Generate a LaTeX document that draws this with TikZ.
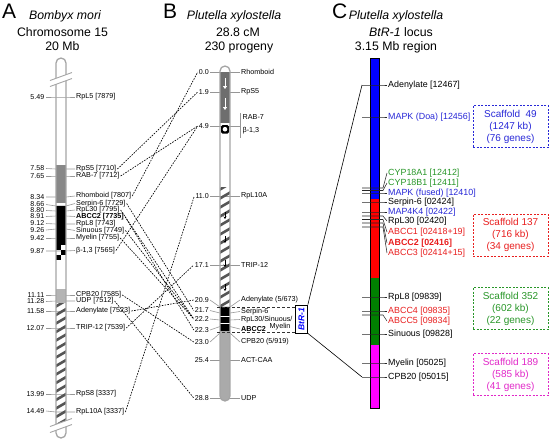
\documentclass[tikz,border=0pt]{standalone}
\usepackage{fontspec}
\setmainfont{Liberation Sans}
\usetikzlibrary{arrows.meta}
\definecolor{agray}{RGB}{136,136,136}
\definecolor{algray}{RGB}{180,180,180}
\definecolor{bdgray}{RGB}{110,110,110}
\definecolor{bgray}{RGB}{170,170,170}
\definecolor{hatchc}{RGB}{85,85,85}
\definecolor{outl}{RGB}{165,165,165}
\definecolor{tickc}{RGB}{150,150,150}
\definecolor{cblue}{RGB}{0,0,255}
\definecolor{cred}{RGB}{255,0,0}
\definecolor{cgreen}{RGB}{0,128,0}
\definecolor{cmag}{RGB}{255,0,255}
\definecolor{tblue}{RGB}{40,40,215}
\definecolor{tred}{RGB}{232,30,30}
\definecolor{tgreen}{RGB}{40,150,40}
\definecolor{tmag}{RGB}{225,40,200}
\begin{document}
\begin{tikzpicture}[x=1pt,y=-1pt,
  panel/.style={font=\fontsize{21}{24}\selectfont, anchor=base west, inner sep=0pt},
  ttl/.style={font=\fontsize{12.3}{14}\selectfont, anchor=base, inner sep=0pt},
  numA/.style={font=\fontsize{7.1}{8}\selectfont, anchor=east, inner sep=1.5pt},
  genA/.style={font=\fontsize{7.2}{8}\selectfont, anchor=west, inner sep=1pt},
  genC/.style={font=\fontsize{8.9}{10}\selectfont, anchor=west, inner sep=1pt},
  gtick/.style={draw=tickc, line width=0.6pt},
  ctick/.style={draw=black!85, line width=0.55pt},
  conn/.style={dash pattern=on 1.6pt off 1.2pt, line width=0.65pt},
  scaf/.style={dash pattern=on 2pt off 1.5pt, line width=0.8pt, align=center, font=\fontsize{10}{12}\selectfont, minimum width=75pt, minimum height=42pt, inner sep=0pt},
  outline/.style={draw=outl, line width=1.3pt, rounded corners=5pt},
  stripe/.style={draw=hatchc, line width=2.6pt},
]
\useasboundingbox (0,0) rectangle (550,440);

% ---------------- titles
\node[panel] (pA) at (2,18.3) {A};
\node[ttl] (tA1) at (65,19.5) {\itshape Bombyx mori};
\node[ttl] (tA2) at (62.5,36.5) {Chromosome 15};
\node[ttl] (tA3) at (62.5,50) {20 Mb};
\node[panel] (pB) at (163,18.3) {B};
\node[ttl] (tB1) at (234,19.5) {\itshape Plutella xylostella};
\node[ttl] (tB2) at (238,36.5) {28.8 cM};
\node[ttl] (tB3) at (239,50) {230 progeny};
\node[panel] (pC) at (332,18.3) {C};
\node[ttl] (tC1) at (396,19.5) {\itshape Plutella xylostella};
\node[ttl] (tC2) at (401,36.5) {{\itshape BtR-1} locus};
\node[ttl] (tC3) at (396,50) {3.15 Mb region};

% ---------------- A chromosome
\fill[white, rounded corners=5pt] (56,58) rectangle (66,438);
\foreach \nm/\ny/\yy/\ly/\num/\txt in {
  a549/97/97/97/5.49/{RpL5 [7879]},
  a758/168.5/169/169/7.58/{RpS5 [7710]},
  a765/176/176/176/7.65/{RAB-7 [7712]},
  a834/197/197/196/8.34/{Rhomboid [7807]},
  a866/204.5/206/203.5/8.66/{Serpin-6 [7729]},
  a880/210.5/211/210/8.80/{RpL30 [7795]},
  a891/216.5/216/216.5/8.91/{\textbf{ABCC2 [7735]}},
  a912/223.5/224/224/9.12/{RpL8 [7743]},
  a926/230/229/230.5/9.26/{Sinuous [7749]},
  a942/238/238/238/9.42/{Myelin [7755]},
  a987/251/251/250.5/9.87/{β-1,3 [7565]},
  a1111/295/295/295/11.11/{CPB20 [7585]},
  a1128/301.5/301/301/11.28/{UDP [7512]},
  a1158/311/311/311/11.58/{Adenylate [7523]},
  a1207/328/328/328/12.07/{TRIP-12 [7539]},
  a1399/394/394/394/13.99/{RpS8 [3337]},
  a1449/411/412/412/14.49/{RpL10A [3337]}}{
  \node[numA] (n\nm) at (46,\ny) {\num};
  \node[genA] (g\nm) at (75,\ly) {\txt};
  \draw[gtick] (n\nm.east) -- (56,\yy) -- (66,\yy) -- (g\nm.west);
}
\begin{scope}
  \clip[rounded corners=5pt] (56,58) rectangle (66,438);
  \fill[agray] (56,165) rectangle (66,203);
  \fill[black] (56,206) rectangle (66,245);
  \fill[black] (56,245) rectangle (61,250);
  \fill[black] (61,250) rectangle (66,255);
  \fill[black] (56,255) rectangle (61,260);
  \fill[algray] (56,289) rectangle (66,303);
  \begin{scope}
    \clip (56,303) rectangle (66,426);
    \foreach \k in {0,...,14} \draw[stripe] (55,307+\k*8.5) -- (67,300+\k*8.5);
  \end{scope}
\end{scope}
\draw[outline] (56,58) rectangle (66,438);
\fill[white] (50,80.5) -- (72,72.5) -- (72,78.5) -- (50,86.5) -- cycle;
\draw[outl, line width=0.9pt] (50,80.5) -- (72,72.5) (50,86.5) -- (72,78.5);
\fill[white] (50,426.5) -- (72,418.5) -- (72,424.5) -- (50,432.5) -- cycle;
\draw[outl, line width=0.9pt] (50,426.5) -- (72,418.5) (50,432.5) -- (72,424.5);

% ---------------- B chromosome
\fill[white, rounded corners=5pt] (220,66) rectangle (230,401);
\foreach \nm/\yy/\num in {b00/72/0.0, b19/92/1.9, b49/126/4.9, b110/196/11.0, b171/265/17.1,
  b209/300/20.9, b217/310.5/21.7, b222/319/22.2, b223/330/22.3, b230/342/23.0, b254/360/25.4, b288/398/28.8}{
  \node[numA, inner sep=1pt] (n\nm) at (210,\yy) {\num};
}
\node[genA] (gbRho) at (240,72) {Rhomboid};
\node[genA] (gbRpS5) at (240,92) {RpS5};
\node[genA] (gbRAB) at (241.5,117) {RAB-7};
\node[genA] (gbBeta) at (241.5,131) {β-1,3};
\node[genA] (gbRpL10A) at (240,196) {RpL10A};
\node[genA] (gbTRIP) at (240,265) {TRIP-12};
\node[genA] (gbAden) at (240,300) {Adenylate (5/673)};
\node[genA] (gbSerp) at (240,311.5) {Serpin-6};
\node[genA] (gbRpL30) at (240,319.5) {RpL30/Sinuous/};
\node[genA] (gbABCC2) at (240,329) {\textbf{ABCC2}};
\node[genA] (gbMye) at (268.5,326.5) {Myelin};
\node[genA] (gbCPB) at (240,342) {CPB20 (5/919)};
\node[genA] (gbACT) at (240,360) {ACT-CAA};
\node[genA] (gbUDP) at (240,398) {UDP};

\draw[gtick] (nb00.east) -- (gbRho.west);
\draw[gtick] (nb19.east) -- (gbRpS5.west);
\draw[gtick] (nb49.east) -- (240,126);
\draw[gtick] (240,113) -- (240,138);
\draw[gtick] (nb110.east) -- (gbRpL10A.west);
\draw[gtick] (nb171.east) -- (gbTRIP.west);
\draw[gtick] (nb209.east) -- (220,307) -- (230,307) -- (gbAden.west);
\draw[gtick] (nb217.east) -- (220,313) -- (230,313) -- (gbSerp.west);
\draw[gtick] (nb222.east) -- (220,320) -- (230,320) -- (gbRpL30.west);
\draw[gtick] (nb223.east) -- (220,326.5) -- (230,326.5) -- (gbABCC2.west);
\draw[gtick] (nb230.east) -- (220,333) -- (230,333) -- (gbCPB.west);
\draw[gtick] (nb254.east) -- (gbACT.west);
\draw[gtick] (nb288.east) -- (gbUDP.west);

\begin{scope}
  \clip[rounded corners=5pt] (220,66) rectangle (230,401);
  \fill[bdgray] (220,72) rectangle (230,123);
  \begin{scope}
    \clip (220,187) rectangle (230,307);
    \foreach \k in {0,...,14} \draw[stripe] (219,190+\k*9) -- (231,183+\k*9);
  \end{scope}
  \fill[black] (220,307) rectangle (230,331);
  \fill[white] (220,316) rectangle (230,317);
  \fill[white] (220,323) rectangle (230,324);
  \fill[bgray] (220,331) rectangle (230,401);
\end{scope}
\fill[black, rounded corners=1.5pt] (221,125) rectangle (229,133.5);
\fill[white] (225,129.2) circle (2.3pt);
\draw[white, line width=1pt, -{Triangle[length=3pt,width=4pt]}] (225,78) -- (225,89);
\draw[white, line width=1pt, -{Triangle[length=3pt,width=4pt]}] (225,98) -- (225,110);
\foreach \yy in {212,236,260,284}
  \draw[black, line width=0.7pt, -{Stealth[length=2.5pt,width=3pt]}] (225,\yy) -- (225,\yy+7);
\draw[outline] (220,66) rectangle (230,401);

% BtR-1 box region
\draw[dash pattern=on 3pt off 2pt, line width=0.7pt, black!80] (217,307) -- (296,307);
\draw[dash pattern=on 3pt off 2pt, line width=0.7pt, black!80] (217,332) -- (296,332);
\node[draw, line width=0.7pt, fill=white, rotate=90, text=cblue, font=\fontsize{8.5}{10}\selectfont\bfseries\itshape,
  minimum width=28pt, minimum height=12pt, inner sep=0pt] (btr) at (301.5,319) {BtR-1};

% ---------------- A -> B connectors
\draw[conn] (ga758.east) -- (nb19.west);
\draw[conn] (ga765.east) -- (nb49.west);
\draw[conn] (ga834.east) -- (nb00.west);
\draw[conn] (ga866.east) -- (nb217.west);
\draw[conn] (ga880.east) -- (nb222.west);
\draw[conn] (ga891.east) -- (nb223.west);
\draw[conn] (ga926.east) -- (nb222.west);
\draw[conn] (ga942.east) -- (nb222.west);
\draw[conn] (ga987.east) -- (nb49.west);
\draw[conn] (ga1111.east) -- (nb230.west);
\draw[conn] (ga1128.east) -- (nb288.west);
\draw[conn] (ga1158.east) -- (nb209.west);
\draw[conn] (ga1207.east) -- (nb171.west);
\draw[conn] (ga1449.east) -- (nb110.west);

% ---------------- C bar
\fill[cblue] (370,58) rectangle (379,199);
\fill[cred] (370,199) rectangle (379,278);
\fill[cgreen] (370,278) rectangle (379,345);
\fill[cmag] (370,345) rectangle (379,408);
\draw[black, line width=0.6pt] (370,58) rectangle (379,408);

\foreach \nm/\ty/\ly/\col/\txt in {
  cAden/85/85/black/{Adenylate [12467]},
  cMAPK/117/117/tblue/{MAPK (Doa) [12456]},
  cCYPA/188/173/tgreen/{CYP18A1 [12412]},
  cCYPB/190.5/183/tgreen/{CYP18B1 [12411]},
  cMAPKf/193/193/tblue/{MAPK (fused) [12410]},
  cSerp/202/202/black/{Serpin-6 [02424]},
  cMAP4/212/212/tblue/{MAP4K4 [02422]},
  cRpL30/216/221/black/{RpL30 [02420]},
  cABCC1/219.5/232/tred/{ABCC1 [02418+19]},
  cABCC2/223/243/tred/{\textbf{ABCC2 [02416]}},
  cABCC3/227/253/tred/{ABCC3 [02414+15]},
  cRpL8/297/297/black/{RpL8 [09839]},
  cABCC4/311/311/tred/{ABCC4 [09835]},
  cABCC5/315/321/tred/{ABCC5 [09834]},
  cSin/334/334/black/{Sinuous [09828]},
  cMye/363/363/black/{Myelin [05025]},
  cCPB/377/377/black/{CPB20 [05015]}}{
  \node[genC, text=\col] (\nm) at (387,\ly) {\txt};
  \draw[ctick] (362,\ty) -- (383,\ty) -- (\nm.west);
}
\coordinate (cTop) at (362,85);
\coordinate (cBot) at (362,377);
\draw[black, line width=0.6pt] (btr.south east) -- (cTop);
\draw[black, line width=0.6pt] (btr.south west) -- (cBot);

% ---------------- scaffolds
\node[scaf, draw=tblue, text=tblue] (s49) at (510.5,126.5) {Scaffold\ \ 49\\(1247 kb)\\(76 genes)};
\node[scaf, draw=tred, text=tred] (s137) at (510.5,235) {Scaffold 137\\(716 kb)\\(34 genes)};
\node[scaf, draw=tgreen, text=tgreen] (s352) at (510.5,308.5) {Scaffold 352\\(602 kb)\\(22 genes)};
\node[scaf, draw=tmag, text=tmag] (s189) at (510.5,374.5) {Scaffold 189\\(585 kb)\\(41 genes)};
\end{tikzpicture}
\end{document}
